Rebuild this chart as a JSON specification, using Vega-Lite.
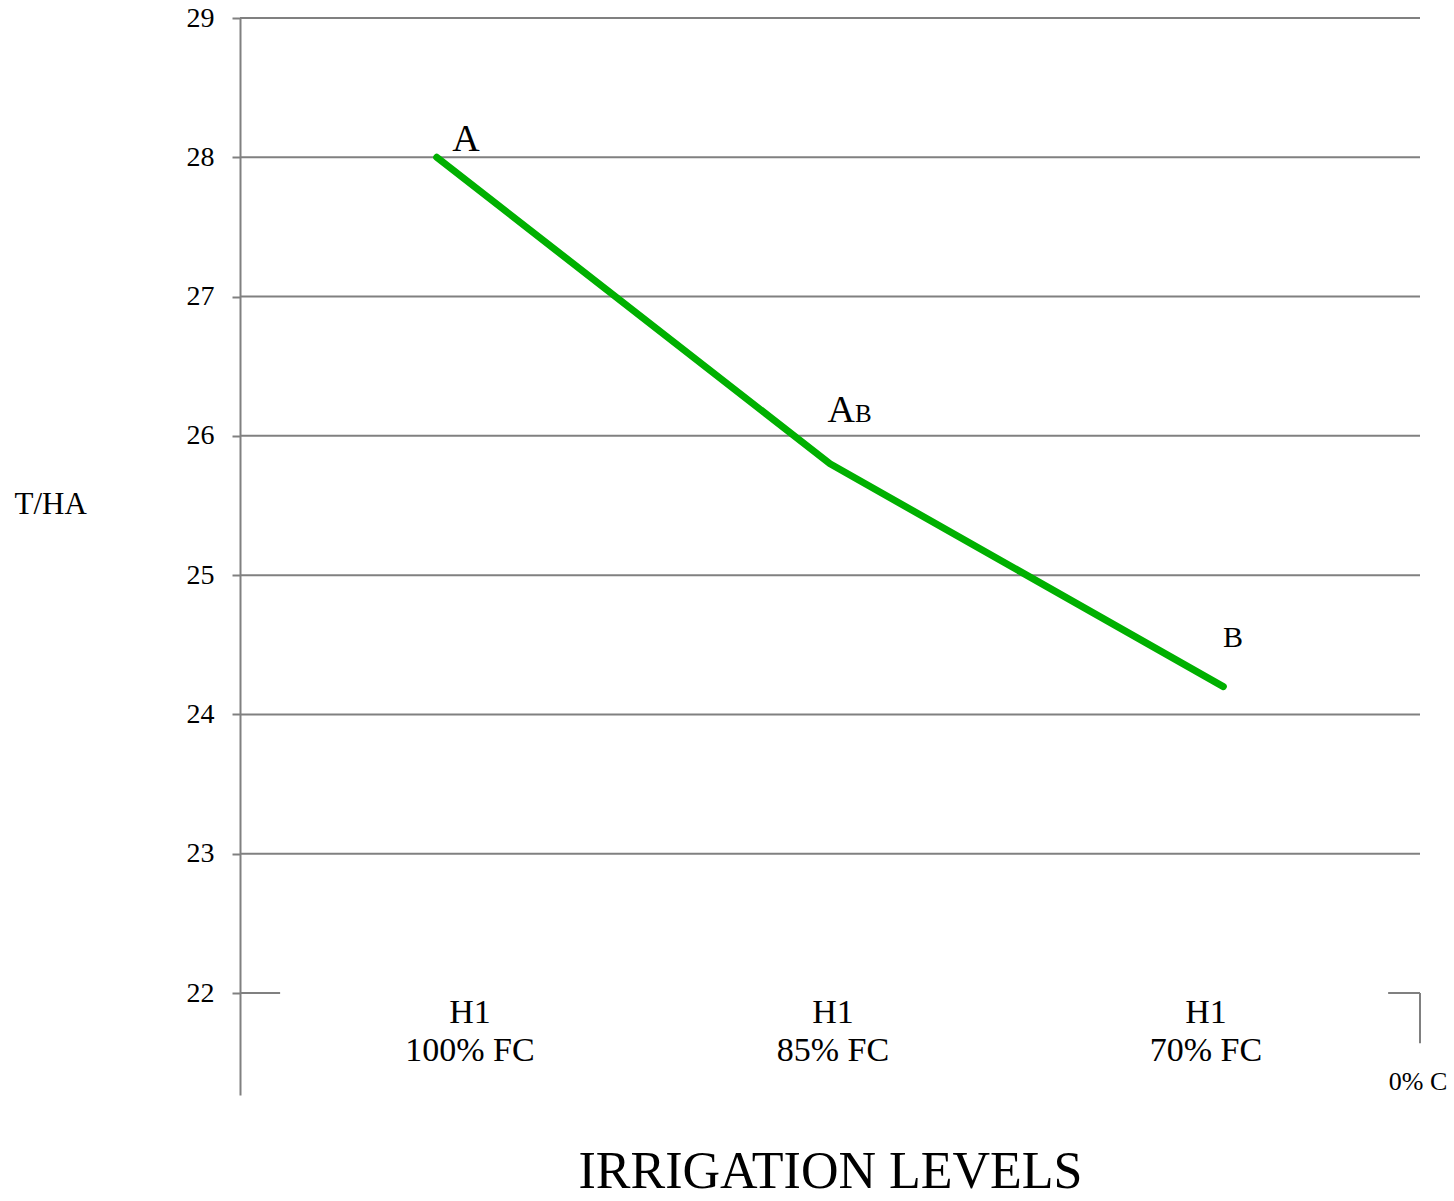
{
  "$schema": "https://vega.github.io/schema/vega-lite/v6.json",
  "width": 1180,
  "height": 1077,
  "autosize": {"type": "none"},
  "padding": {"left": 240, "top": 18, "right": 34, "bottom": 106},
  "background": "white",
  "config": {
    "view": {"stroke": null},
    "font": "Liberation Serif",
    "text": {"font": "Liberation Serif", "color": "black"}
  },
  "datasets": {
    "yield": [
      {"level": 0.5, "t": 28.0},
      {"level": 1.5, "t": 25.8},
      {"level": 2.5, "t": 24.2}
    ],
    "grid": [{"g": 23}, {"g": 24}, {"g": 25}, {"g": 26}, {"g": 27}, {"g": 28}, {"g": 29}],
    "frame": [
      {"x": 0, "x2": 0.102, "y": 22, "y2": 22},
      {"x": 2.919, "x2": 3, "y": 22, "y2": 22},
      {"x": 3, "x2": 3, "y": 22, "y2": 21.64}
    ],
    "bigLetters": [
      {"x": 0.5746, "y": 28.045, "txt": "A"}
    ],
    "abA": [
      {"x": 1.5636, "y": 26.0995, "txt": "A"}
    ],
    "smallLetters": [
      {"x": 1.5636, "y": 26.0995, "txt": "B"}
    ],
    "midLetters": [
      {"x": 2.5246, "y": 24.484, "txt": "B"}
    ],
    "cats": [
      {"x": 0.5847, "y": 21.785, "label": ["H1", "100% FC"]},
      {"x": 1.5076, "y": 21.785, "label": ["H1", "85% FC"]},
      {"x": 2.4559, "y": 21.785, "label": ["H1", "70% FC"]}
    ],
    "extra": [
      {"x": 2.995, "y": 21.304, "label": "0% C"}
    ]
  },
  "encoding": {
    "x": {
      "field": "x", "type": "quantitative",
      "scale": {"domain": [0, 3], "nice": false, "zero": false},
      "axis": {
        "labels": false, "ticks": false, "domain": false, "grid": false,
        "title": "IRRIGATION LEVELS",
        "titleFont": "Liberation Serif",
        "titleFontSize": 52,
        "titleFontWeight": "normal",
        "titleColor": "black",
        "titleBaseline": "alphabetic",
        "titleY": 92
      }
    },
    "y": {
      "field": "y", "type": "quantitative",
      "scale": {"domain": [21.268, 29], "nice": false, "zero": false},
      "axis": {
        "values": [22, 23, 24, 25, 26, 27, 28, 29],
        "title": "T/HA",
        "titleAngle": 0,
        "titleAlign": "left",
        "titleBaseline": "middle",
        "titleX": -226,
        "titleY": 486,
        "titleFont": "Liberation Serif",
        "titleFontSize": 31,
        "titleFontWeight": "normal",
        "titleColor": "black",
        "grid": false,
        "domainColor": "#808080",
        "domainWidth": 2,
        "tickColor": "#808080",
        "tickWidth": 2,
        "tickSize": 8,
        "labelPadding": 18,
        "labelFont": "Liberation Serif",
        "labelFontSize": 28,
        "labelColor": "black",
        "labelBaseline": "middle"
      }
    }
  },
  "layer": [
    {
      "data": {"name": "grid"},
      "mark": {"type": "rule", "color": "#808080", "strokeWidth": 2},
      "encoding": {
        "x": null,
        "y": {"field": "g", "type": "quantitative"}
      }
    },
    {
      "data": {"name": "frame"},
      "mark": {"type": "rule", "color": "#808080", "strokeWidth": 2},
      "encoding": {
        "x2": {"field": "x2"},
        "y2": {"field": "y2"}
      }
    },
    {
      "data": {"name": "yield"},
      "mark": {"type": "line", "color": "#00b000", "strokeWidth": 7, "strokeCap": "round", "strokeJoin": "round"},
      "encoding": {
        "x": {"field": "level", "type": "quantitative"},
        "y": {"field": "t", "type": "quantitative"}
      }
    },
    {
      "data": {"name": "bigLetters"},
      "mark": {"type": "text", "fontSize": 38, "baseline": "alphabetic", "align": "center"},
      "encoding": {"text": {"field": "txt"}}
    },
    {
      "data": {"name": "abA"},
      "mark": {"type": "text", "fontSize": 38, "baseline": "alphabetic", "align": "right"},
      "encoding": {"text": {"field": "txt"}}
    },
    {
      "data": {"name": "smallLetters"},
      "mark": {"type": "text", "fontSize": 25, "baseline": "alphabetic", "align": "left"},
      "encoding": {"text": {"field": "txt"}}
    },
    {
      "data": {"name": "midLetters"},
      "mark": {"type": "text", "fontSize": 30, "baseline": "alphabetic", "align": "center"},
      "encoding": {"text": {"field": "txt"}}
    },
    {
      "data": {"name": "cats"},
      "mark": {"type": "text", "fontSize": 34, "baseline": "alphabetic", "align": "center", "lineHeight": 38},
      "encoding": {"text": {"field": "label"}}
    },
    {
      "data": {"name": "extra"},
      "mark": {"type": "text", "fontSize": 26, "baseline": "alphabetic", "align": "center"},
      "encoding": {"text": {"field": "label"}}
    }
  ]
}
